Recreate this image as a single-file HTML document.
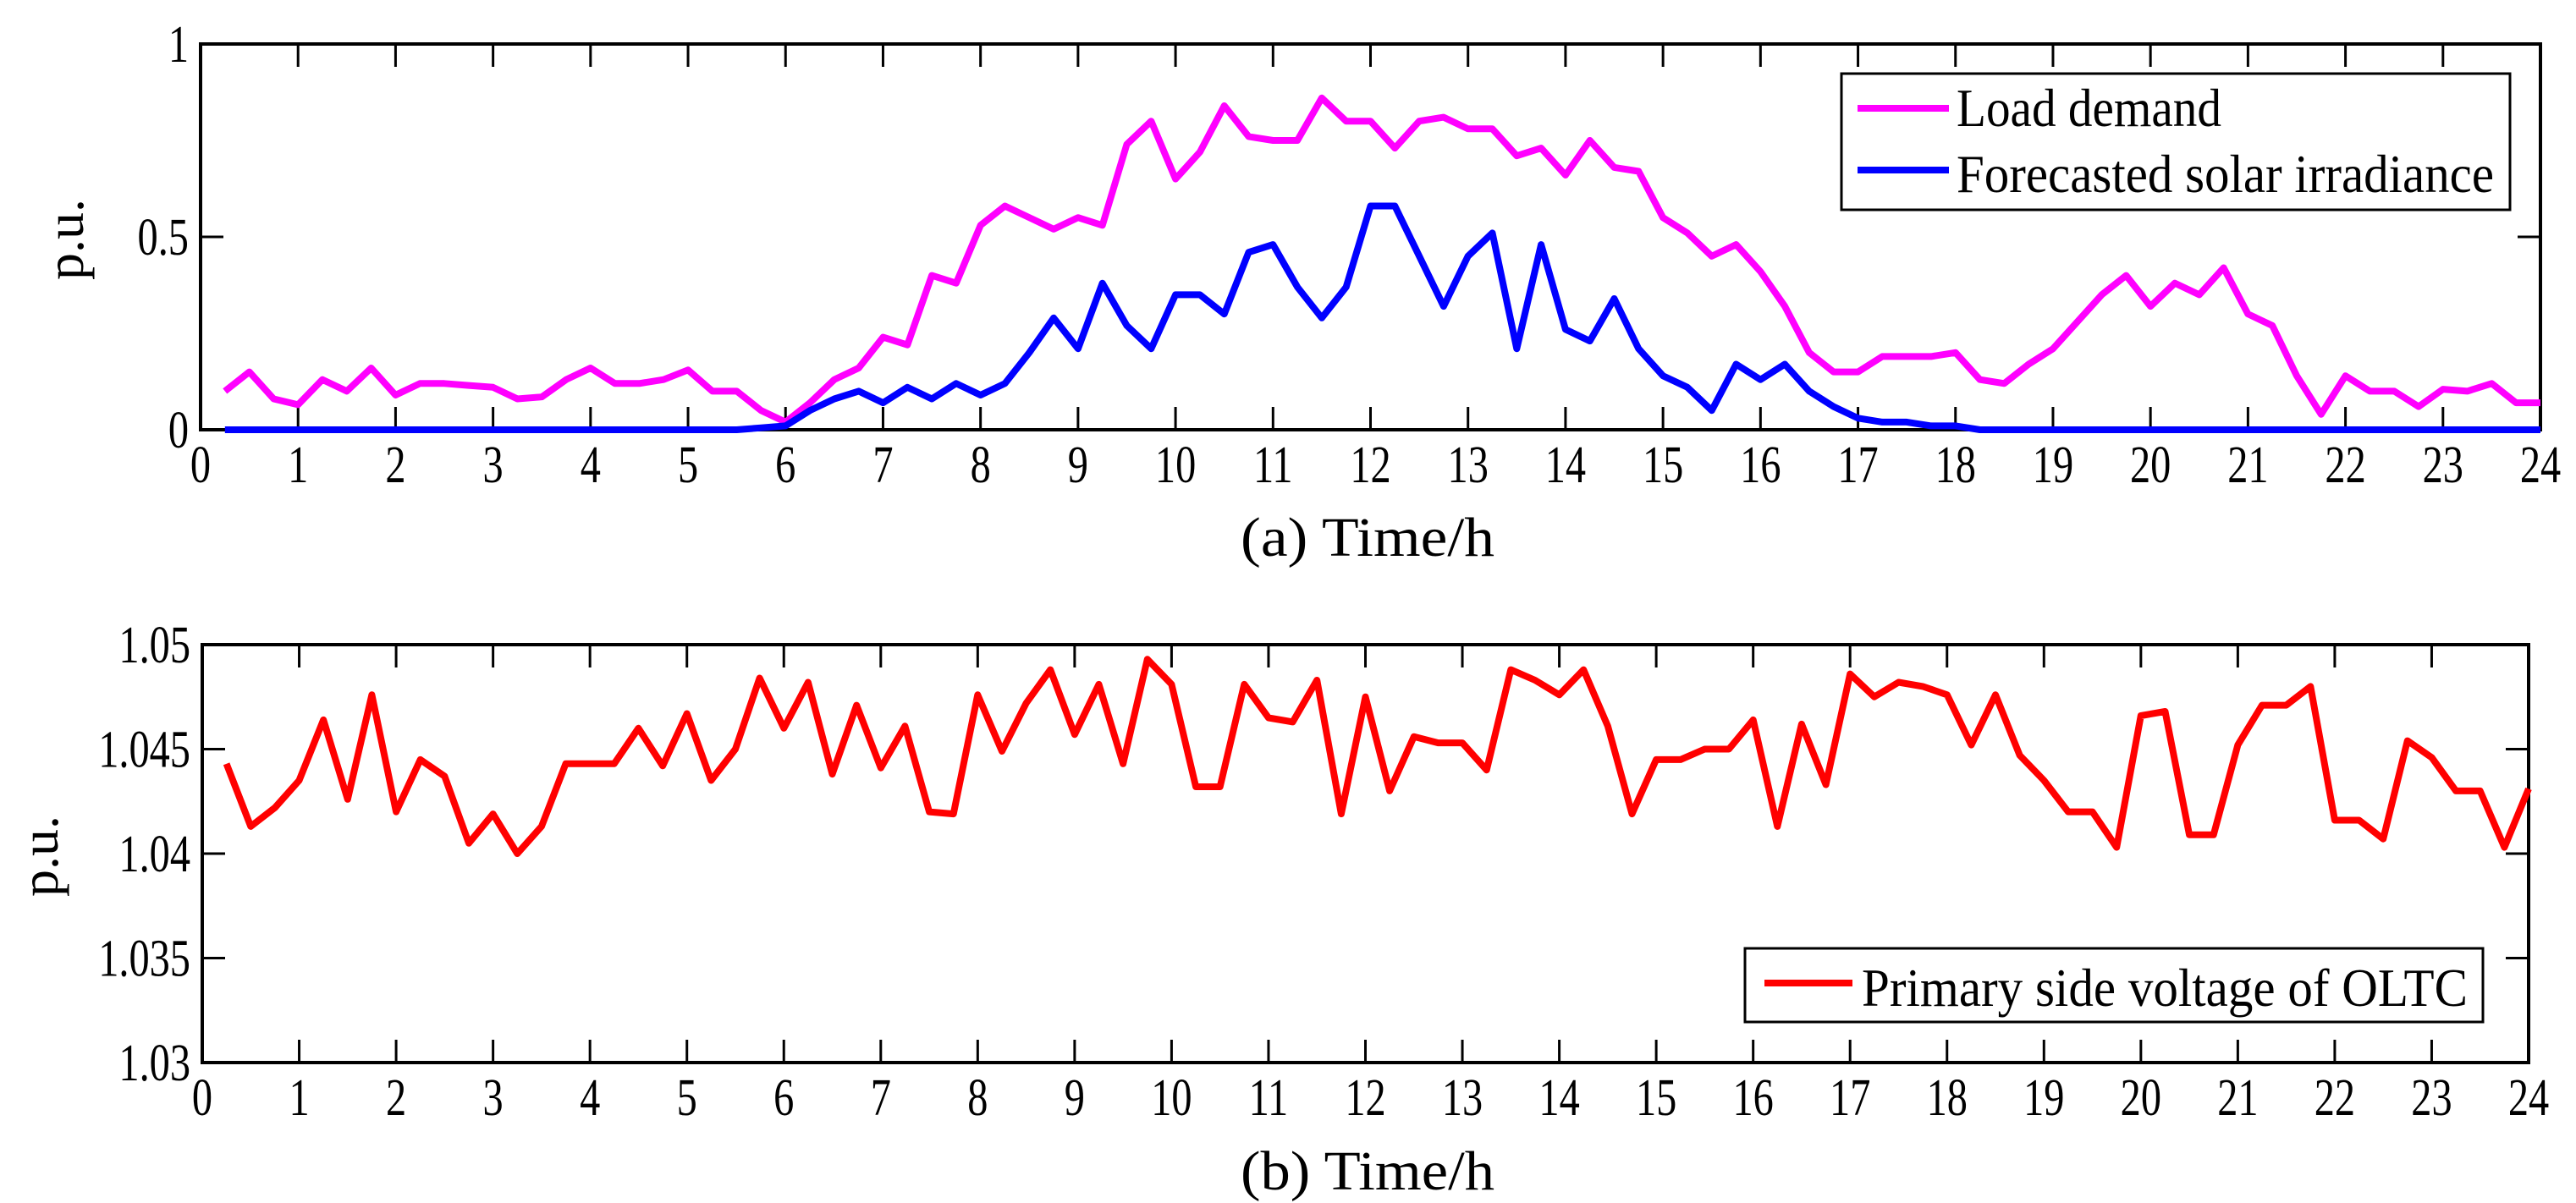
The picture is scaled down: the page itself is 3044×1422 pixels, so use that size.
<!DOCTYPE html>
<html><head><meta charset="utf-8"><style>
html,body{margin:0;padding:0;background:#fff;}
svg{display:block;}
text{font-family:"Liberation Serif",serif;fill:#000;}
</style></head><body>
<svg id="chart" width="3044" height="1422" viewBox="0 0 3044 1422" xmlns="http://www.w3.org/2000/svg">
<rect x="0" y="0" width="3044" height="1422" fill="#fff"/>
<g id="top"></g>
<g id="bot"></g>
</svg>
<script>
const times = [];
for (let i = 1; i <= 96; i++) times.push(i * 0.25);
const loadDemand = [0.10,0.15,0.08,0.065,0.13,0.10,0.16,0.09,0.12,0.12,0.115,0.11,0.08,0.085,0.13,0.16,0.12,0.12,0.13,0.155,0.10,0.10,0.05,0.02,
0.07,0.13,0.16,0.24,0.22,0.40,0.38,0.53,0.58,0.55,0.52,0.55,0.53,0.74,0.80,0.65,0.72,0.84,0.76,0.75,0.75,0.86,0.80,0.80,
0.73,0.80,0.81,0.78,0.78,0.71,0.73,0.66,0.75,0.68,0.67,0.55,0.51,0.45,0.48,0.41,0.32,0.20,0.15,0.15,0.19,0.19,0.19,0.20,
0.13,0.12,0.17,0.21,0.28,0.35,0.40,0.32,0.38,0.35,0.42,0.30,0.27,0.14,0.04,0.14,0.10,0.10,0.06,0.105,0.10,0.12,0.07,0.07];
const solar = [0,0,0,0,0,0,0,0,0,0,0,0,0,0,0,0,0,0,0,0,0,0,0.005,0.01,
0.05,0.08,0.10,0.07,0.11,0.08,0.12,0.09,0.12,0.20,0.29,0.21,0.38,0.27,0.21,0.35,0.35,0.30,0.46,0.48,0.37,0.29,0.37,0.58,
0.58,0.45,0.32,0.45,0.51,0.21,0.48,0.26,0.23,0.34,0.21,0.14,0.11,0.05,0.17,0.13,0.17,0.10,0.06,0.03,0.02,0.02,0.01,0.01,
0,0,0,0,0,0,0,0,0,0,0,0,0,0,0,0,0,0,0,0,0,0,0,0];
const voltage = [1.0443,1.0413,1.0422,1.0435,1.0464,1.0426,1.0476,1.0420,1.0445,1.0437,1.0405,1.0419,1.0400,1.0413,1.0443,1.0443,
1.0443,1.0460,1.0442,1.0467,1.0435,1.0450,1.0484,1.0460,1.0482,1.0438,1.0471,1.0441,1.0461,1.0420,1.0419,1.0476,
1.0449,1.0472,1.0488,1.0457,1.0481,1.0443,1.0493,1.0481,1.0432,1.0432,1.0481,1.0465,1.0463,1.0483,1.0419,1.0475,
1.0430,1.0456,1.0453,1.0453,1.0440,1.0488,1.0483,1.0476,1.0488,1.0461,1.0419,1.0445,1.0445,1.0450,1.0450,1.0464,
1.0413,1.0462,1.0433,1.0486,1.0475,1.0482,1.0480,1.0476,1.0452,1.0476,1.0447,1.0435,1.0420,1.0420,1.0403,1.0466,
1.0468,1.0409,1.0409,1.0452,1.0471,1.0471,1.0480,1.0416,1.0416,1.0407,1.0454,1.0446,1.0430,1.0430,1.0403,1.0431];
const xTicks = [0,1,2,3,4,5,6,7,8,9,10,11,12,13,14,15,16,17,18,19,20,21,22,23,24];
const yTicksTop = [0,0.5,1];
const yTickLabelsTop = ["0","0.5","1"];
const yTicksBot = [1.03,1.035,1.04,1.045,1.05];
const yTickLabelsBot = ["1.03","1.035","1.04","1.045","1.05"];

const NS = "http://www.w3.org/2000/svg";
function mk(parent, tag, attrs) {
  const e = document.createElementNS(NS, tag);
  for (const k in attrs) e.setAttribute(k, attrs[k]);
  parent.appendChild(e);
  return e;
}

function panel(g, box, xMin, xMax, yMin, yMax, yTicks, yLabels, prefix) {
  const sx = v => box.l + (v - xMin) / (xMax - xMin) * (box.r - box.l);
  const sy = v => box.b - (v - yMin) / (yMax - yMin) * (box.b - box.t);
  const frame = mk(g, "rect", {x: box.l, y: box.t, width: box.r - box.l, height: box.b - box.t, fill: "none", stroke: "#000", "stroke-width": 4});
  
  
  xTicks.forEach(t => {
    const x = sx(t);
    if (t > xMin && t < xMax) {
      const a = mk(g, "line", {x1: x, x2: x, y1: box.b, y2: box.b - 27, stroke: "#000", "stroke-width": 3});
      
      
      const b = mk(g, "line", {x1: x, x2: x, y1: box.t, y2: box.t + 27, stroke: "#000", "stroke-width": 3});
      
      
    }
    const lb = mk(g, "text", {x: x, y: box.b + 62, "font-size": 62, "text-anchor": "middle", transform: "translate(" + x + ",0) scale(0.78,1) translate(" + (-x) + ",0)"});
    lb.textContent = String(t);
    
    
  });
  yTicks.forEach((t, i) => {
    const y = sy(t);
    if (t > yMin && t < yMax) {
      const a = mk(g, "line", {x1: box.l, x2: box.l + 27, y1: y, y2: y, stroke: "#000", "stroke-width": 3});
      
      
      const b = mk(g, "line", {x1: box.r, x2: box.r - 27, y1: y, y2: y, stroke: "#000", "stroke-width": 3});
      
      
    }
    const xr = box.l - 14;
    const lb = mk(g, "text", {x: xr, y: y + 21, "font-size": 62, "text-anchor": "end", transform: "translate(" + xr + ",0) scale(0.78,1) translate(" + (-xr) + ",0)"});
    lb.textContent = yLabels[i];
    
    
  });
  return {sx, sy};
}

function series(g, sc, xs, ys, color, name) {
  const pts = xs.map((x, i) => sc.sx(x).toFixed(1) + "," + sc.sy(ys[i]).toFixed(1)).join(" ");
  const p = mk(g, "polyline", {points: pts, fill: "none", stroke: color, "stroke-width": 8, "stroke-linejoin": "round"});
  
  
}

// Top panel
const gt = document.getElementById("top");
const st = panel(gt, {l: 237, r: 3002, t: 52, b: 508}, 0, 24, 0, 1, yTicksTop, yTickLabelsTop, "top");
series(gt, st, times, loadDemand, "#ff00ff", "load-demand-line");
series(gt, st, times, solar, "#0000ff", "solar-irradiance-line");
const lg1 = mk(gt, "g", {});


mk(lg1, "rect", {x: 2176, y: 87, width: 790, height: 161, fill: "#fff", stroke: "#000", "stroke-width": 3});
mk(lg1, "line", {x1: 2195, x2: 2303, y1: 128, y2: 128, stroke: "#ff00ff", "stroke-width": 8});
mk(lg1, "line", {x1: 2195, x2: 2303, y1: 201, y2: 201, stroke: "#0000ff", "stroke-width": 8});
const t1 = mk(lg1, "text", {x: 2312, y: 149, "font-size": 64, textLength: 313, lengthAdjust: "spacingAndGlyphs"});
t1.textContent = "Load demand";


const t2 = mk(lg1, "text", {x: 2312, y: 227, "font-size": 64, textLength: 635, lengthAdjust: "spacingAndGlyphs"});
t2.textContent = "Forecasted solar irradiance";


const xl1 = mk(gt, "text", {x: 1616, y: 657, "font-size": 66, "text-anchor": "middle", textLength: 300, lengthAdjust: "spacingAndGlyphs"});
xl1.textContent = "(a) Time/h";


const yl1 = mk(gt, "text", {x: 0, y: 0, "font-size": 64, "text-anchor": "middle", transform: "translate(98,283) rotate(-90)"});
yl1.textContent = "p.u.";



// Bottom panel
const gb = document.getElementById("bot");
const sb = panel(gb, {l: 239, r: 2988, t: 762, b: 1256}, 0, 24, 1.03, 1.05, yTicksBot, yTickLabelsBot, "bottom");
series(gb, sb, times, voltage, "#ff0000", "oltc-voltage-line");
const lg2 = mk(gb, "g", {});


mk(lg2, "rect", {x: 2062, y: 1121, width: 872, height: 87, fill: "#fff", stroke: "#000", "stroke-width": 3});
mk(lg2, "line", {x1: 2085, x2: 2189, y1: 1162, y2: 1162, stroke: "#ff0000", "stroke-width": 8});
const t3 = mk(lg2, "text", {x: 2200, y: 1189, "font-size": 64, textLength: 716, lengthAdjust: "spacingAndGlyphs"});
t3.textContent = "Primary side voltage of OLTC";


const xl2 = mk(gb, "text", {x: 1616, y: 1406, "font-size": 66, "text-anchor": "middle", textLength: 300, lengthAdjust: "spacingAndGlyphs"});
xl2.textContent = "(b) Time/h";


const yl2 = mk(gb, "text", {x: 0, y: 0, "font-size": 64, "text-anchor": "middle", transform: "translate(68,1012) rotate(-90)"});
yl2.textContent = "p.u.";


</script>
</body></html>
